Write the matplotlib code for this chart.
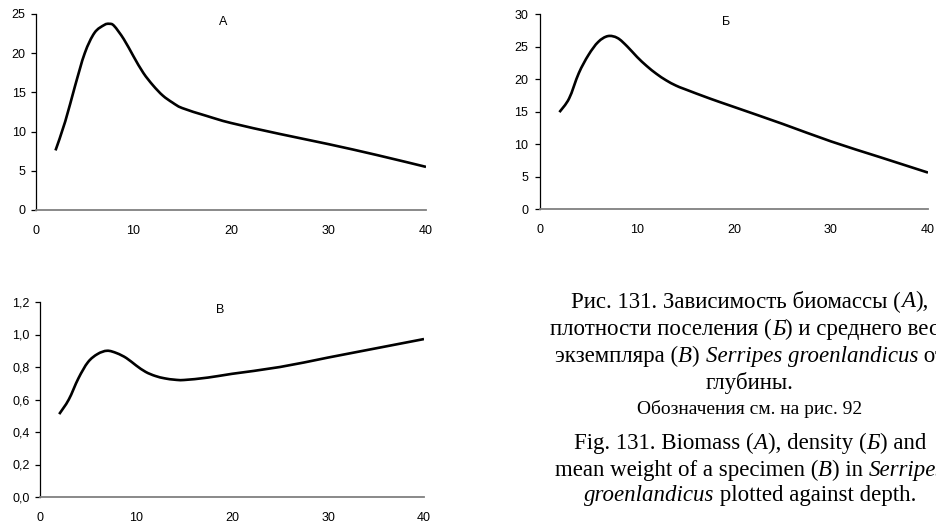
import matplotlib
matplotlib.use('Agg')
import matplotlib.pyplot as plt
from matplotlib.path import Path
from matplotlib.patches import PathPatch

# depth (m) and values
depth_a = [2, 3, 4, 5, 6, 7, 7.5, 8, 9, 10, 11, 12, 13, 14, 15, 17.5, 20, 25, 30, 35, 40]
biomass = [7.6, 11.3, 15.8, 20.0, 22.6, 23.6, 23.75, 23.5, 21.8, 19.6, 17.5, 15.9, 14.6, 13.7, 13.0, 12.0, 11.1, 9.7, 8.4, 7.0, 5.5]

depth_b = [2, 3, 4, 5, 6, 7, 8, 9, 10, 11, 12, 13, 14, 15, 17.5, 20, 25, 30, 35, 40]
density = [14.9, 17.0, 20.9, 23.7, 25.7, 26.6, 26.3, 25.0, 23.4, 22.0, 20.8, 19.8, 19.0, 18.4, 17.0, 15.7, 13.1, 10.4, 8.0, 5.6]

depth_c = [2, 3, 4, 5, 6, 7, 8, 9, 10, 11, 12, 13, 14, 15, 17.5, 20, 25, 30, 35, 40]
weight = [0.51, 0.60, 0.73, 0.83, 0.88, 0.90, 0.885, 0.855, 0.81, 0.77, 0.745, 0.73, 0.722, 0.72, 0.735, 0.758, 0.80, 0.858, 0.915, 0.972]

xticks = [0, 10, 20, 30, 40]

plt.rcParams['font.family'] = ['Liberation Sans', 'DejaVu Sans']

fig = plt.figure(figsize=(9.36, 5.24), dpi=100)
W, H = 936.0, 524.0


def smooth_line(ax, xs, ys):
    # smoothed line like a spreadsheet chart: bezier segments through the points
    n = len(xs)
    verts = [(xs[0], ys[0])]
    codes = [Path.MOVETO]
    for i in range(n - 1):
        x0, y0 = xs[max(i - 1, 0)], ys[max(i - 1, 0)]
        x1, y1 = xs[i], ys[i]
        x2, y2 = xs[i + 1], ys[i + 1]
        x3, y3 = xs[min(i + 2, n - 1)], ys[min(i + 2, n - 1)]
        verts += [(x1 + (x2 - x0) / 6, y1 + (y2 - y0) / 6),
                  (x2 - (x3 - x1) / 6, y2 - (y3 - y1) / 6),
                  (x2, y2)]
        codes += [Path.CURVE4] * 3
    ax.add_patch(PathPatch(Path(verts, codes), fill=False, edgecolor='black',
                           lw=1.9, capstyle='butt', joinstyle='round'))


def make_ax(left, top, right, bottom):
    ax = fig.add_axes([left / W, 1 - bottom / H, (right - left) / W, (bottom - top) / H])
    for s in ['top', 'right']:
        ax.spines[s].set_visible(False)
    ax.spines['left'].set_color('black')
    ax.spines['left'].set_linewidth(0.9)
    ax.spines['bottom'].set_color('#808080')
    ax.spines['bottom'].set_linewidth(1.3)
    ax.tick_params(axis='y', direction='out', length=3.5, width=0.9, labelsize=9, pad=4)
    ax.tick_params(axis='x', length=0, labelsize=9, pad=11)
    ax.set_xlim(0, 40)
    ax.set_xticks(xticks)
    return ax


ax1 = make_ax(36, 14, 426, 210)
smooth_line(ax1, depth_a, biomass)
ax1.set_ylim(0, 25)
ax1.set_yticks([0, 5, 10, 15, 20, 25])
ax1.text(0.48, 0.99, 'А', transform=ax1.transAxes, ha='center', va='top', fontsize=9)

ax2 = make_ax(540, 14, 928, 209)
smooth_line(ax2, depth_b, density)
ax2.set_ylim(0, 30)
ax2.set_yticks([0, 5, 10, 15, 20, 25, 30])
ax2.tick_params(axis='y', pad=5)
ax2.text(0.48, 0.99, 'Б', transform=ax2.transAxes, ha='center', va='top', fontsize=9)

ax3 = make_ax(40, 302, 424, 497)
smooth_line(ax3, depth_c, weight)
ax3.set_ylim(0, 1.2)
ax3.set_yticks([0, 0.2, 0.4, 0.6, 0.8, 1.0, 1.2])
ax3.set_yticklabels(['0,0', '0,2', '0,4', '0,6', '0,8', '1,0', '1,2'])
ax3.text(0.47, 0.99, 'В', transform=ax3.transAxes, ha='center', va='top', fontsize=9)

# caption with mixed upright / italic parts
caption = [
    (307, 16.5, [('Рис. 131. Зависимость биомассы (', 'normal'), ('А', 'italic'), ('),', 'normal')]),
    (335, 16.5, [('плотности поселения (', 'normal'), ('Б', 'italic'), (') и среднего веса', 'normal')]),
    (362, 16.5, [('экземпляра (', 'normal'), ('В', 'italic'), (') ', 'normal'),
                 ('Serripes groenlandicus', 'italic'), (' от', 'normal')]),
    (389, 16.5, [('глубины.', 'normal')]),
    (414, 14, [('Обозначения см. на рис. 92', 'normal')]),
    (449, 16.5, [('Fig. 131. Biomass (', 'normal'), ('A', 'italic'), ('), density (', 'normal'),
                 ('Б', 'italic'), (') and', 'normal')]),
    (476, 16.5, [('mean weight of a specimen (', 'normal'), ('B', 'italic'), (') in ', 'normal'),
                 ('Serripes', 'italic')]),
    (501, 16.5, [('groenlandicus', 'italic'), (' plotted against depth.', 'normal')]),
]
center_x = 750.0
renderer = fig.canvas.get_renderer()
for base, size, parts in caption:
    items = []
    total = 0.0
    for txt, style in parts:
        t = fig.text(0, 1 - base / H, txt, fontsize=size, style=style,
                     family='Liberation Serif', va='baseline', ha='left')
        bb = t.get_window_extent(renderer)
        items.append((t, bb.width))
        total += bb.width
    x = center_x - total / 2
    for t, w in items:
        t.set_x(x / W)
        x += w

fig.savefig('out.png', dpi=100)
